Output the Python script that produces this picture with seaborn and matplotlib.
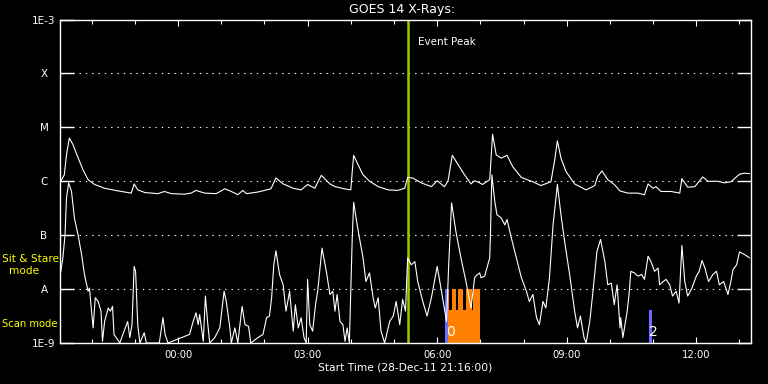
import numpy as np
import pandas as pd
import seaborn as sns
import matplotlib.pyplot as plt
from matplotlib.ticker import FixedLocator, NullLocator

# time axis: minutes after the start time
start = pd.Timestamp("2011-12-28 21:16:00")
span_min = 960
peak_min = 484

# GOES 14 long channel (1-8 A), log10 flux in W/m^2
long_min = [1, 6, 9, 13, 18, 25, 32, 39, 48, 62,
            81, 99, 103, 108, 118, 136, 145, 155, 173, 182,
            189, 201, 217, 229, 238, 247, 254, 259, 275, 293,
            300, 310, 324, 335, 344, 354, 363, 375, 382, 395,
            404, 406, 408, 414, 421, 430, 442, 456, 469, 479,
            483, 490, 502, 516, 524, 534, 539, 545, 553, 562,
            571, 576, 583, 587, 597, 601, 606, 613, 621, 629,
            641, 657, 668, 682, 687, 691, 696, 703, 715, 731,
            743, 747, 753, 761, 770, 778, 789, 803, 812, 817,
            824, 828, 835, 849, 861, 864, 872, 882, 893, 900,
            914, 923, 932, 944, 951, 958]
long_log = [-6.00, -5.88, -5.51, -5.20, -5.32, -5.56, -5.79, -5.97, -6.06, -6.13,
            -6.18, -6.22, -6.05, -6.16, -6.21, -6.23, -6.19, -6.23, -6.24, -6.22,
            -6.17, -6.22, -6.23, -6.14, -6.19, -6.25, -6.17, -6.23, -6.20, -6.14,
            -5.94, -6.05, -6.13, -6.16, -6.06, -6.13, -5.89, -6.05, -6.10, -6.14,
            -6.16, -5.82, -5.52, -5.69, -5.88, -6.00, -6.10, -6.16, -6.17, -6.13,
            -5.93, -5.94, -6.03, -6.10, -5.99, -6.10, -6.00, -5.52, -5.69, -5.88,
            -6.05, -5.99, -6.03, -6.06, -5.97, -5.13, -5.51, -5.57, -5.52, -5.73,
            -5.93, -6.01, -6.08, -6.01, -5.63, -5.25, -5.57, -5.82, -6.05, -6.16,
            -6.08, -5.91, -5.81, -5.97, -6.06, -6.18, -6.22, -6.22, -6.25, -6.05,
            -6.13, -6.10, -6.19, -6.19, -6.22, -5.95, -6.11, -6.10, -5.92, -6.00,
            -6.00, -6.03, -6.01, -5.87, -5.85, -5.86]

# GOES 14 short channel (0.5-4 A), log10 flux in W/m^2
short_min = [1, 4, 7, 9, 12, 16, 20, 25, 30, 34,
             39, 41, 43, 46, 49, 53, 57, 59, 62, 67,
             70, 73, 75, 78, 83, 94, 97, 100, 103, 105,
             108, 111, 117, 120, 138, 143, 146, 150, 180, 185,
             189, 192, 194, 199, 202, 205, 208, 215, 222, 228,
             231, 236, 238, 243, 247, 253, 257, 262, 265, 275,
             282, 287, 291, 294, 297, 300, 305, 310, 314, 319,
             324, 327, 331, 335, 339, 342, 344, 347, 351, 355,
             358, 364, 370, 375, 379, 382, 385, 389, 393, 396,
             399, 402, 406, 408, 412, 416, 421, 425, 430, 435,
             438, 442, 446, 451, 458, 463, 467, 472, 476, 480,
             483, 488, 493, 497, 504, 510, 516, 524, 530, 537,
             540, 544, 550, 557, 564, 571, 576, 580, 583, 585,
             590, 597, 598, 600, 604, 607, 613, 618, 621, 627,
             634, 641, 648, 652, 657, 662, 666, 671, 675, 680,
             685, 691, 696, 701, 708, 715, 719, 723, 728, 731,
             736, 740, 746, 751, 757, 761, 766, 770, 774, 778,
             779, 782, 785, 788, 791, 793, 798, 803, 808, 812,
             817, 821, 826, 831, 833, 838, 842, 847, 851, 856,
             860, 864, 868, 872, 878, 884, 888, 892, 896, 901,
             907, 912, 916, 922, 928, 932, 935, 940, 944, 951,
             958]
short_log = [-7.68, -7.42, -6.99, -6.31, -6.03, -6.19, -6.68, -6.99, -7.36, -7.73,
             -8.04, -7.98, -8.29, -8.72, -8.16, -8.23, -8.41, -8.97, -8.60, -8.35,
             -8.41, -8.32, -8.84, -8.90, -9.00, -8.60, -8.90, -8.66, -7.58, -7.67,
             -8.66, -9.00, -8.81, -9.00, -9.00, -8.53, -8.84, -9.00, -8.84, -8.60,
             -8.44, -8.66, -8.47, -8.97, -8.13, -8.60, -9.00, -8.90, -8.72, -8.04,
             -8.23, -8.72, -9.00, -8.72, -9.00, -8.32, -8.66, -8.69, -9.00, -8.90,
             -8.84, -8.53, -8.50, -8.16, -7.55, -7.29, -7.73, -7.92, -8.41, -8.04,
             -8.78, -8.29, -8.72, -8.53, -8.90, -9.00, -7.82, -8.66, -8.78, -8.29,
             -8.04, -7.24, -7.67, -8.10, -8.04, -8.41, -8.10, -8.60, -8.66, -8.97,
             -8.72, -9.00, -7.05, -6.39, -6.74, -7.05, -7.42, -7.86, -7.70, -8.16,
             -8.35, -8.16, -8.78, -9.00, -8.60, -8.50, -8.23, -8.66, -8.19, -8.41,
             -7.42, -7.55, -7.49, -7.86, -8.23, -8.50, -8.16, -7.58, -8.04, -8.60,
             -7.55, -6.40, -6.93, -7.42, -7.86, -8.35, -7.79, -7.73, -7.70, -7.79,
             -7.76, -7.42, -6.99, -5.88, -6.37, -6.62, -6.68, -6.81, -6.71, -7.05,
             -7.42, -7.79, -8.04, -8.23, -8.10, -8.53, -8.66, -8.23, -8.35, -7.79,
             -6.81, -6.06, -6.62, -7.11, -7.73, -8.41, -8.72, -8.50, -8.90, -9.00,
             -8.60, -8.10, -7.30, -7.08, -7.49, -7.92, -7.89, -8.29, -7.92, -8.72,
             -8.53, -8.90, -8.66, -8.41, -8.04, -7.67, -7.70, -7.76, -7.73, -7.82,
             -7.39, -7.49, -7.67, -7.61, -7.92, -7.86, -7.82, -7.92, -8.13, -8.04,
             -8.26, -7.19, -7.86, -8.13, -7.98, -7.76, -7.67, -7.47, -7.61, -7.86,
             -7.73, -7.67, -7.92, -7.86, -8.10, -7.86, -7.64, -7.55, -7.31, -7.36,
             -7.42]

class_levels = [1e-9, 1e-8, 1e-7, 1e-6, 1e-5, 1e-4, 1e-3]
class_labels = ["1E-9", "A", "B", "C", "M", "X", "1E-3"]

# observing mode bars: (start min, end min, top flux)
blue_bars = [(535, 538.5, 1e-8), (818.5, 822, 4.1e-9)]
orange_bars = [(538.5, 583, 1e-8)]
orange_gaps = [(540, 544), (549.6, 552.8), (559.7, 563.9), (571.8, 574)]
gap_bottom = 4.1e-9
bar_numbers = [(542, "0"), (824, "2")]
number_flux = 1.6e-9

sns.set_theme(style="dark", rc={
    "figure.facecolor": "black", "axes.facecolor": "black",
    "axes.edgecolor": "white", "text.color": "white",
    "xtick.color": "white", "ytick.color": "white",
})
plt.rcParams["font.family"] = ["DejaVu Sans"]

df = pd.concat([
    pd.DataFrame({"minutes": long_min, "flux": 10 ** np.array(long_log), "channel": "long"}),
    pd.DataFrame({"minutes": short_min, "flux": 10 ** np.array(short_log), "channel": "short"}),
])

fig = plt.figure(figsize=(7.68, 3.84), dpi=100)
ax = fig.add_axes([60 / 768, 41 / 384, 691 / 768, 323.5 / 384])
ax.set_yscale("log")

for s, e, top in orange_bars:
    ax.bar(s, top - 1e-9, bottom=1e-9, width=e - s, align="edge", color="#ff8000", lw=0, zorder=1)
for s, e in orange_gaps:
    ax.bar(s, 1e-8 - gap_bottom, bottom=gap_bottom, width=e - s, align="edge", color="black", lw=0, zorder=1.2)
for s, e, top in blue_bars:
    ax.bar(s, top - 1e-9, bottom=1e-9, width=e - s, align="edge", color="#6b6bff", lw=0, zorder=1.1)
for m, txt in bar_numbers:
    ax.text(m, number_flux, txt, color="white", fontsize=10, ha="center", va="center", zorder=4)

for lvl in class_levels[1:-1]:
    ax.axhline(lvl, color="white", lw=0.8, linestyle=(0, (1.2, 4.5)), zorder=0.5)

ax.axvline(peak_min, color="#99cc00", lw=1.8, zorder=2)
ax.annotate("Event Peak", xy=(peak_min, 1), xycoords=("data", "axes fraction"),
            xytext=(7, -16.5), textcoords="offset points", ha="left", va="center",
            color="white", fontsize=7.5)

sns.lineplot(data=df, x="minutes", y="flux", hue="channel",
             palette={"long": "white", "short": "white"}, legend=False,
             estimator=None, sort=False, lw=0.8, ax=ax, zorder=3)

ax.set_xlim(0, span_min)
ax.set_ylim(1e-9, 1e-3)
ax.set_xlabel("")
ax.set_ylabel("")

# hour ticks, labelled every three hours
hours = pd.date_range(start.ceil("h"), start + pd.Timedelta(minutes=span_min), freq="h")
hour_min = [(h - start).total_seconds() / 60 for h in hours]
major = [m for m, h in zip(hour_min, hours) if h.hour % 3 == 0]
ax.xaxis.set_major_locator(FixedLocator(major))
ax.xaxis.set_minor_locator(FixedLocator(hour_min))
ax.set_xticklabels([(start + pd.Timedelta(minutes=m)).strftime("%H:%M") for m in major])
ax.tick_params(axis="x", which="major", direction="in", length=4.5, width=0.8,
               top=True, bottom=True, labelsize=7.2, pad=5)
ax.tick_params(axis="x", which="minor", direction="in", length=2.8, width=0.8,
               top=True, bottom=True)

ax.yaxis.set_major_locator(FixedLocator(class_levels))
ax.yaxis.set_minor_locator(NullLocator())
ax.set_yticklabels(class_labels)
ax.tick_params(axis="y", which="major", direction="in", length=10, width=1,
               left=True, right=True, labelsize=7.5, pad=11.5)
for lbl in ax.get_yticklabels():
    lbl.set_ha("center")

for sp in ax.spines.values():
    sp.set_color("white")
    sp.set_linewidth(1)
ax.grid(False)

fig.text(402 / 768, 1 - 10 / 384, "GOES 14 X-Rays:", ha="center", va="center", fontsize=9, color="white")
fig.text(405 / 768, 1 - 368 / 384, "Start Time (28-Dec-11 21:16:00)", ha="center", va="center",
         fontsize=7.7, color="white")
fig.text(2 / 768, 1 - 259 / 384, "Sit & Stare", ha="left", va="center", fontsize=7.6, color="#ffff00", zorder=10)
fig.text(24 / 768, 1 - 271 / 384, "mode", ha="center", va="center", fontsize=7.6, color="#ffff00", zorder=10)
fig.text(2 / 768, 1 - 324 / 384, "Scan mode", ha="left", va="center", fontsize=7.2, color="#ffff00")

fig.savefig("out.png", dpi=100, facecolor="black")
